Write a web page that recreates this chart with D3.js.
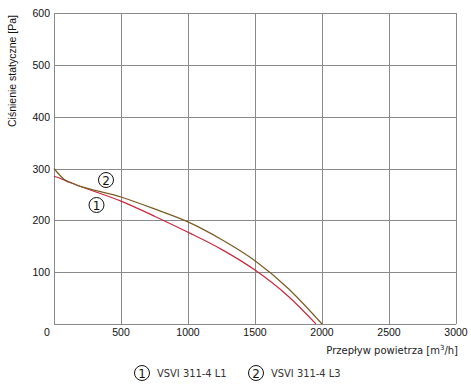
<!DOCTYPE html>
<html>
<head>
<meta charset="utf-8">
<script src="https://cdn.jsdelivr.net/npm/d3@7"></script>
<style>
  body { margin: 0; background: #fff; }
  svg { display: block; }
</style>
</head>
<body>
<svg id="chart"></svg>
<script>
// DATA
const xTicks = [500, 1000, 1500, 2000, 2500, 3000];
const yTicks = [100, 200, 300, 400, 500, 600];
const seriesNames = ["VSVI 311-4 L1", "VSVI 311-4 L3"];
const flowL1 = [0, 75, 150, 500, 750, 1000, 1250, 1500, 1750, 1955];
const pressL1 = [285, 278, 270, 237, 208, 177, 144, 104, 53, 0];
const flowL3 = [0, 40, 80, 150, 500, 750, 1000, 1250, 1500, 1750, 2000];
const pressL3 = [300, 288, 278, 270, 245, 222, 197, 163, 122, 68, 0];

const width = 471;
const height = 387;
const margin = { top: 13, right: 15, bottom: 63, left: 54 };

const svg = d3.select("#chart").attr("width", width).attr("height", height);

const x = d3.scaleLinear().domain([0, 3000]).range([margin.left, width - margin.right]);
const y = d3.scaleLinear().domain([0, 600]).range([height - margin.bottom, margin.top]);

// GRID
const grid = svg.append("g").attr("stroke", "#8a8a8a").attr("stroke-width", 1).attr("shape-rendering", "crispEdges");
grid.selectAll(".gx").data([0].concat(xTicks)).enter().append("line")
  .attr("x1", d => Math.round(x(d)) + 0.5).attr("x2", d => Math.round(x(d)) + 0.5)
  .attr("y1", y(0)).attr("y2", y(600));
grid.selectAll(".gy").data([0].concat(yTicks)).enter().append("line")
  .attr("y1", d => Math.round(y(d)) + 0.5).attr("y2", d => Math.round(y(d)) + 0.5)
  .attr("x1", x(0)).attr("x2", x(3000));

// TICK LABELS
const tickFont = "'Liberation Sans', Arial, sans-serif";
svg.append("g").selectAll("text").data(xTicks).enter().append("text")
  .attr("x", d => x(d)).attr("y", y(0) + 12)
  .attr("text-anchor", "middle").attr("font-family", tickFont).attr("font-size", 10.5)
  .attr("fill", "#111").text(d => d);
svg.append("text").attr("x", x(0) - 7).attr("y", y(0) + 12)
  .attr("text-anchor", "middle").attr("font-family", tickFont).attr("font-size", 10.5)
  .attr("fill", "#111").text("0");
svg.append("g").selectAll("text").data(yTicks).enter().append("text")
  .attr("x", x(0) - 4).attr("y", d => y(d) + 4)
  .attr("text-anchor", "end").attr("font-family", tickFont).attr("font-size", 10.5)
  .attr("fill", "#111").text(d => d);

// AXIS TITLES
svg.append("text")
  .attr("transform", `translate(16, ${margin.top + 58}) rotate(-90)`)
  .attr("text-anchor", "middle").attr("font-family", tickFont).attr("font-size", 10.5)
  .attr("fill", "#111").text("Ciśnienie statyczne [Pa]");

const xTitle = svg.append("text")
  .attr("x", x(3000) + 2).attr("y", 354)
  .attr("text-anchor", "end").attr("font-family", "'DejaVu Sans', Verdana, sans-serif").attr("font-size", 10)
  .attr("fill", "#222");
xTitle.append("tspan").text("Przepływ powietrza [m");
xTitle.append("tspan").attr("font-size", 7).attr("dy", -4).text("3");
xTitle.append("tspan").attr("dy", 4).text("/h]");

// CURVES
const line = d3.line().x(d => x(d[0])).y(d => y(d[1])).curve(d3.curveMonotoneX);
const curves = [
  { pts: d3.zip(flowL1, pressL1), color: "#c8283f" },
  { pts: d3.zip(flowL3, pressL3), color: "#7b5a22" }
];
svg.append("g").selectAll("path").data(curves).enter().append("path")
  .attr("d", d => line(d.pts)).attr("fill", "none")
  .attr("stroke", d => d.color).attr("stroke-width", 1.2);

// CIRCLED NUMBERS
function circled(g, cx, cy, label) {
  g.append("circle").attr("cx", cx).attr("cy", cy).attr("r", 7.5)
    .attr("fill", "none").attr("stroke", "#111").attr("stroke-width", 1);
  g.append("text").attr("x", cx).attr("y", cy + 4.5).attr("text-anchor", "middle")
    .attr("font-family", "'DejaVu Sans', sans-serif").attr("font-size", 12).attr("fill", "#111").text(label);
}
const marks = svg.append("g");
circled(marks, 106, 180, "2");
circled(marks, 96.5, 205, "1");

// LEGEND
const legend = svg.append("g");
const legendX = [142, 256];
seriesNames.forEach((name, i) => {
  circled(legend, legendX[i], 373, String(i + 1));
  legend.append("text").attr("x", legendX[i] + 15).attr("y", 377)
    .attr("font-family", "'DejaVu Sans Condensed', 'DejaVu Sans', sans-serif").attr("font-size", 11)
    .attr("fill", "#333").text(name);
});
</script>
</body>
</html>
